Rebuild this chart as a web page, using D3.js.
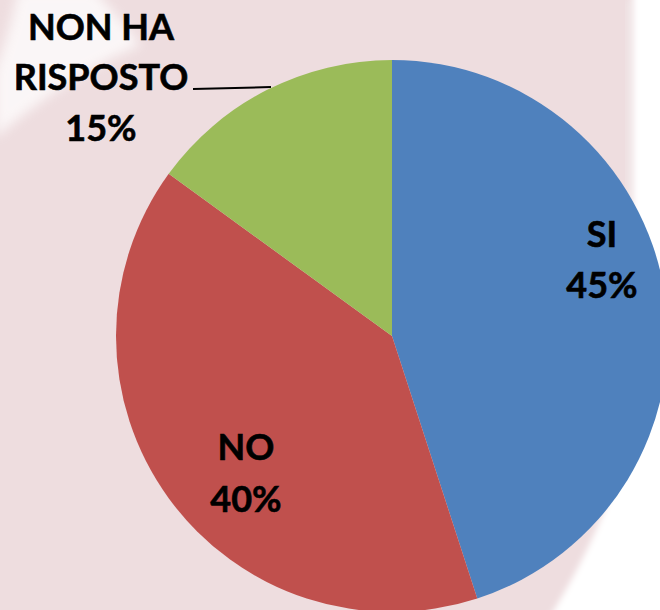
<!DOCTYPE html>
<html>
<head>
<meta charset="utf-8">
<script src="https://cdn.jsdelivr.net/npm/d3@7"></script>
<style>
  body { margin: 0; background: #fff; }
  svg { display: block; }
</style>
</head>
<body>
<script>
var width = 660,
    height = 610;

var categories = ["SI", "NO", "NON HA RISPOSTO"];
var values = [45, 40, 15];
var colors = ["#4f81bd", "#c0504d", "#9bbb59"];

var cx = 392, cy = 336, radius = 276;

var svg = d3.select("body").append("svg")
    .attr("width", width)
    .attr("height", height);

var defs = svg.append("defs");
defs.append("filter").attr("id", "soft")
  .append("feGaussianBlur").attr("stdDeviation", 3);
defs.append("filter").attr("id", "softer")
  .append("feGaussianBlur").attr("stdDeviation", 6);

// background slide
svg.append("rect")
    .attr("width", width).attr("height", height)
    .attr("fill", "#eedddf");

// white area on the right
svg.append("rect")
    .attr("x", 626).attr("y", 0)
    .attr("width", 6).attr("height", 420)
    .attr("fill", "#f0e6e7")
    .attr("filter", "url(#soft)");
svg.append("path")
    .attr("d", "M633,-10 L633,400 C625,480 585,560 548,620 L670,620 L670,-10 Z")
    .attr("fill", "#ffffff")
    .attr("filter", "url(#soft)");

// white swoosh top left
svg.append("path")
    .attr("d", "M18,-10 L95,-10 C115,15 135,35 140,46 C100,60 45,95 -5,138 L-5,70 C5,45 12,20 18,-10 Z")
    .attr("fill", "#ffffff")
    .attr("opacity", 0.75)
    .attr("filter", "url(#softer)");

var pie = d3.pie().sort(null).value(d => d.value);
var arc = d3.arc().innerRadius(0).outerRadius(radius);

var data = categories.map((c, i) => ({name: c, value: values[i], color: colors[i]}));
var arcs = pie(data);

var g = svg.append("g").attr("transform", "translate(" + cx + "," + cy + ")");

g.selectAll("path")
  .data(arcs)
  .join("path")
    .attr("d", arc)
    .attr("fill", d => d.data.color);

// labels
var font = "Lato, 'Open Sans', sans-serif";
var lines = [
  {x: 602, y: [247, 298], t: ["SI", "45%"]},
  {x: 246, y: [460, 512], t: ["NO", "40%"]},
  {x: 101, y: [40, 90, 141], t: ["NON HA", "RISPOSTO", "15%"]}
];

lines.forEach(function(l) {
  var txt = svg.append("text")
      .attr("text-anchor", "middle")
      .attr("font-family", font)
      .attr("font-weight", "bold")
      .attr("font-size", 36)
      .attr("fill", "#000")
      .attr("stroke", "#000")
      .attr("stroke-width", 0.6);
  l.t.forEach(function(s, j) {
    txt.append("tspan").attr("x", l.x).attr("y", l.y[j]).text(s);
  });
});

// leader line for the small slice
svg.append("line")
    .attr("x1", 193).attr("y1", 89)
    .attr("x2", 271).attr("y2", 87)
    .attr("stroke", "#000")
    .attr("stroke-width", 2);
</script>
</body>
</html>
